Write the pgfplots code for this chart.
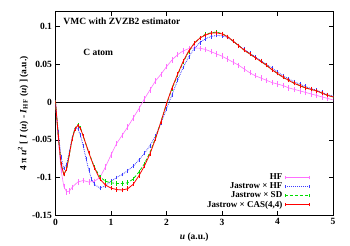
\documentclass[border=0pt]{standalone}
\usepackage{fontspec}
\setmainfont{Liberation Serif}
\usepackage{pgfplots}
\usepackage{pgfplotstable}
\pgfplotsset{compat=1.18}
\definecolor{hfmag}{RGB}{255,110,255}
\definecolor{jhfblue}{RGB}{60,60,255}
\definecolor{sdgreen}{RGB}{0,220,0}
\definecolor{casred}{RGB}{255,0,0}

\pgfplotstableread{
u y e
0 0 0.001
0.05 -0.050 0.002
0.1 -0.090 0.002
0.15 -0.112 0.002
0.2 -0.119 0.002
0.25 -0.118 0.002
0.3 -0.113 0.002
0.4 -0.106 0.002
0.5 -0.104 0.002
0.6 -0.106 0.002
0.7 -0.105 0.002
0.8 -0.100 0.002
0.9 -0.086 0.002
1.0 -0.070 0.002
1.1 -0.055 0.002
1.2 -0.044 0.002
1.3 -0.033 0.002
1.4 -0.021 0.002
1.5 -0.009 0.002
1.6 0.004 0.002
1.7 0.016 0.002
1.8 0.028 0.002
1.9 0.037 0.002
2.0 0.047 0.002
2.1 0.056 0.002
2.2 0.063 0.002
2.3 0.068 0.002
2.4 0.071 0.002
2.5 0.072 0.002
2.6 0.0715 0.002
2.7 0.070 0.002
2.8 0.067 0.002
2.9 0.064 0.002
3.0 0.061 0.002
3.1 0.057 0.002
3.2 0.053 0.002
3.3 0.049 0.002
3.4 0.044 0.002
3.5 0.039 0.002
3.6 0.035 0.002
3.7 0.032 0.002
3.8 0.029 0.002
3.9 0.026 0.002
4.0 0.024 0.002
4.1 0.022 0.002
4.2 0.019 0.002
4.3 0.017 0.002
4.4 0.015 0.002
4.5 0.013 0.002
4.6 0.011 0.002
4.7 0.009 0.002
4.8 0.007 0.002
4.9 0.005 0.002
5.0 0.003 0.002
}\hfdata

\pgfplotstableread{
u y e
0 0 0.001
0.05 -0.040 0.001
0.1 -0.073 0.001
0.15 -0.088 0.001
0.2 -0.083 0.001
0.25 -0.066 0.001
0.3 -0.047 0.001
0.35 -0.035 0.001
0.4 -0.035 0.001
0.45 -0.044 0.001
0.5 -0.058 0.001
0.55 -0.075 0.001
0.6 -0.090 0.001
0.65 -0.102 0.001
0.7 -0.109 0.001
0.8 -0.114 0.001
0.9 -0.111 0.001
1.0 -0.105 0.001
1.1 -0.100 0.001
1.2 -0.096 0.001
1.3 -0.091 0.001
1.4 -0.085 0.001
1.5 -0.077 0.001
1.6 -0.068 0.001
1.7 -0.058 0.001
1.8 -0.045 0.001
1.9 -0.028 0.001
2.0 -0.009 0.001
2.1 0.010 0.001
2.2 0.029 0.001
2.3 0.046 0.001
2.4 0.060 0.001
2.5 0.071 0.001
2.6 0.079 0.001
2.7 0.084 0.001
2.8 0.087 0.001
2.9 0.0885 0.001
3.0 0.088 0.001
3.1 0.086 0.001
3.2 0.081 0.001
3.3 0.075 0.001
3.4 0.070 0.001
3.5 0.065 0.001
3.6 0.060 0.001
3.7 0.055 0.001
3.8 0.050 0.001
3.9 0.045 0.001
4.0 0.040 0.001
4.1 0.035 0.001
4.2 0.031 0.001
4.3 0.027 0.001
4.4 0.024 0.001
4.5 0.021 0.001
4.6 0.018 0.001
4.7 0.016 0.001
4.8 0.013 0.001
4.9 0.010 0.001
5.0 0.008 0.001
}\jhfdata

\pgfplotstableread{
u y e
0 0 0.001
0.05 -0.045 0.001
0.1 -0.082 0.001
0.15 -0.096 0.001
0.2 -0.089 0.001
0.25 -0.069 0.001
0.3 -0.049 0.001
0.35 -0.035 0.001
0.4 -0.030 0.001
0.45 -0.034 0.001
0.5 -0.045 0.001
0.6 -0.067 0.001
0.7 -0.086 0.001
0.8 -0.099 0.001
0.9 -0.105 0.001
1.0 -0.107 0.0015
1.1 -0.108 0.0015
1.2 -0.108 0.0015
1.3 -0.107 0.0015
1.4 -0.102 0.001
1.5 -0.093 0.001
1.6 -0.082 0.001
1.7 -0.067 0.001
1.8 -0.048 0.001
1.9 -0.026 0.001
2.0 -0.003 0.001
2.1 0.018 0.001
2.2 0.036 0.001
2.3 0.053 0.001
2.4 0.067 0.001
2.5 0.078 0.001
2.6 0.085 0.001
2.7 0.090 0.001
2.8 0.092 0.001
2.9 0.093 0.001
3.0 0.091 0.001
3.1 0.087 0.001
3.2 0.081 0.001
3.3 0.075 0.001
3.4 0.069 0.001
3.5 0.064 0.001
3.6 0.059 0.001
3.7 0.054 0.001
3.8 0.049 0.001
3.9 0.043 0.001
4.0 0.038 0.001
4.1 0.033 0.001
4.2 0.029 0.001
4.3 0.025 0.001
4.4 0.022 0.001
4.5 0.019 0.001
4.6 0.017 0.001
4.7 0.015 0.001
4.8 0.012 0.001
4.9 0.009 0.001
5.0 0.007 0.001
}\sddata

\pgfplotstableread{
u y e
0 0 0.001
0.05 -0.045 0.001
0.1 -0.082 0.001
0.15 -0.096 0.001
0.2 -0.089 0.001
0.25 -0.069 0.001
0.3 -0.049 0.001
0.35 -0.036 0.001
0.4 -0.031 0.001
0.45 -0.035 0.001
0.5 -0.045 0.001
0.6 -0.067 0.001
0.7 -0.087 0.001
0.8 -0.102 0.001
0.9 -0.110 0.001
1.0 -0.114 0.0015
1.1 -0.116 0.0015
1.2 -0.1165 0.0015
1.3 -0.115 0.0015
1.4 -0.109 0.001
1.5 -0.098 0.001
1.6 -0.085 0.001
1.7 -0.069 0.001
1.8 -0.049 0.001
1.9 -0.026 0.001
2.0 -0.002 0.001
2.1 0.019 0.001
2.2 0.037 0.001
2.3 0.054 0.001
2.4 0.068 0.001
2.5 0.078 0.001
2.6 0.085 0.001
2.7 0.089 0.001
2.8 0.0915 0.001
2.9 0.092 0.001
3.0 0.0905 0.001
3.1 0.087 0.001
3.2 0.081 0.001
3.3 0.075 0.001
3.4 0.069 0.001
3.5 0.064 0.001
3.6 0.059 0.001
3.7 0.054 0.001
3.8 0.049 0.001
3.9 0.043 0.001
4.0 0.038 0.001
4.1 0.033 0.001
4.2 0.029 0.001
4.3 0.025 0.001
4.4 0.022 0.001
4.5 0.019 0.001
4.6 0.017 0.001
4.7 0.015 0.001
4.8 0.012 0.001
4.9 0.009 0.001
5.0 0.007 0.001
}\casdata

\begin{document}
\begin{tikzpicture}
\begin{axis}[
  name=ax,
  scale only axis,
  width=277.5pt, height=203.5pt,
  xmin=0, xmax=5, ymin=-0.15, ymax=0.12,
  xtick={0,1,2,3,4,5},
  ytick={-0.15,-0.1,-0.05,0,0.05,0.1},
  yticklabels={-0.15,-0.1,-0.05,0,0.05,0.1},
  xticklabels={0,1,2,3,4,5},
  tick align=inside, xtick pos=both, ytick pos=both,
  major tick length=4pt,
  axis line style={line width=0.9pt},
  tick style={line width=0.6pt, black},
  /pgf/number format/assume math mode=true,
  ticklabel style={font=\bfseries\fontsize{9.5}{10}\selectfont},
  xlabel={\textit{u} (a.u.)},
  ylabel={4 π \textit{u}\textsuperscript{2} [ \textit{I} (\textit{u}) - \textit{I}\textsubscript{HF} (\textit{u}) ] (a.u.)},
  label style={font=\bfseries\fontsize{9.5}{10}\selectfont},
  xlabel style={yshift=-1pt},
  ylabel style={yshift=-3pt},
  legend plot pos=right,
  legend cell align=right,
  legend style={at={(rel axis cs:0.926,0.012)}, anchor=south east, draw=none, fill=none,
    font=\bfseries\fontsize{9}{9}\selectfont, row sep=-2.5pt,
    /tikz/every even column/.append style={column sep=5pt}},
  legend image code/.code={\draw[#1] (0pt,0pt) -- (24pt,0pt);
    \draw[#1, solid, line width=0.5pt] (0pt,-1.5pt) -- (0pt,1.5pt) (24pt,-1.5pt) -- (24pt,1.5pt);},
  error bars/y dir=both, error bars/y explicit,
  error bars/error mark options={mark size=1.2pt, line width=0.35pt},
]
\draw[black, line width=0.9pt] (axis cs:0,0) -- (axis cs:5,0);
\addplot[hfmag, line width=0.6pt, mark=none, forget plot, error bars/error bar style={hfmag, line width=0.35pt}] table[x=u, y=y, y error=e] {\hfdata};
\addplot[jhfblue, line width=0.8pt, densely dotted, mark=none, forget plot, error bars/error bar style={jhfblue, line width=0.35pt, solid}] table[x=u, y=y, y error=e] {\jhfdata};
\addplot[sdgreen, line width=0.8pt, densely dashed, mark=none, forget plot, error bars/error bar style={sdgreen, line width=0.35pt, solid}] table[x=u, y=y, y error=e] {\sddata};
\addplot[casred, line width=0.8pt, mark=none, forget plot, error bars/error bar style={casred, line width=0.35pt}] table[x=u, y=y, y error=e] {\casdata};
\addlegendimage{hfmag, line width=1pt}
\addlegendentry{HF}
\addlegendimage{jhfblue, line width=1pt, densely dotted}
\addlegendentry{Jastrow × HF}
\addlegendimage{sdgreen, line width=1pt, densely dashed}
\addlegendentry{Jastrow × SD}
\addlegendimage{casred, line width=1pt}
\addlegendentry{Jastrow × CAS(4,4)}
\node[anchor=west, font=\bfseries\fontsize{9.5}{10}\selectfont] at (axis cs:0.08,0.107) {VMC with ZVZB2 estimator};
\node[font=\bfseries\fontsize{9.5}{10}\selectfont] at (axis cs:0.77,0.066) {C atom};
\end{axis}
\pgfresetboundingbox
\path ([shift={(-55.5pt,-30pt)}]ax.south west) rectangle ([shift={(17pt,11.7pt)}]ax.north east);
\end{tikzpicture}
\end{document}
